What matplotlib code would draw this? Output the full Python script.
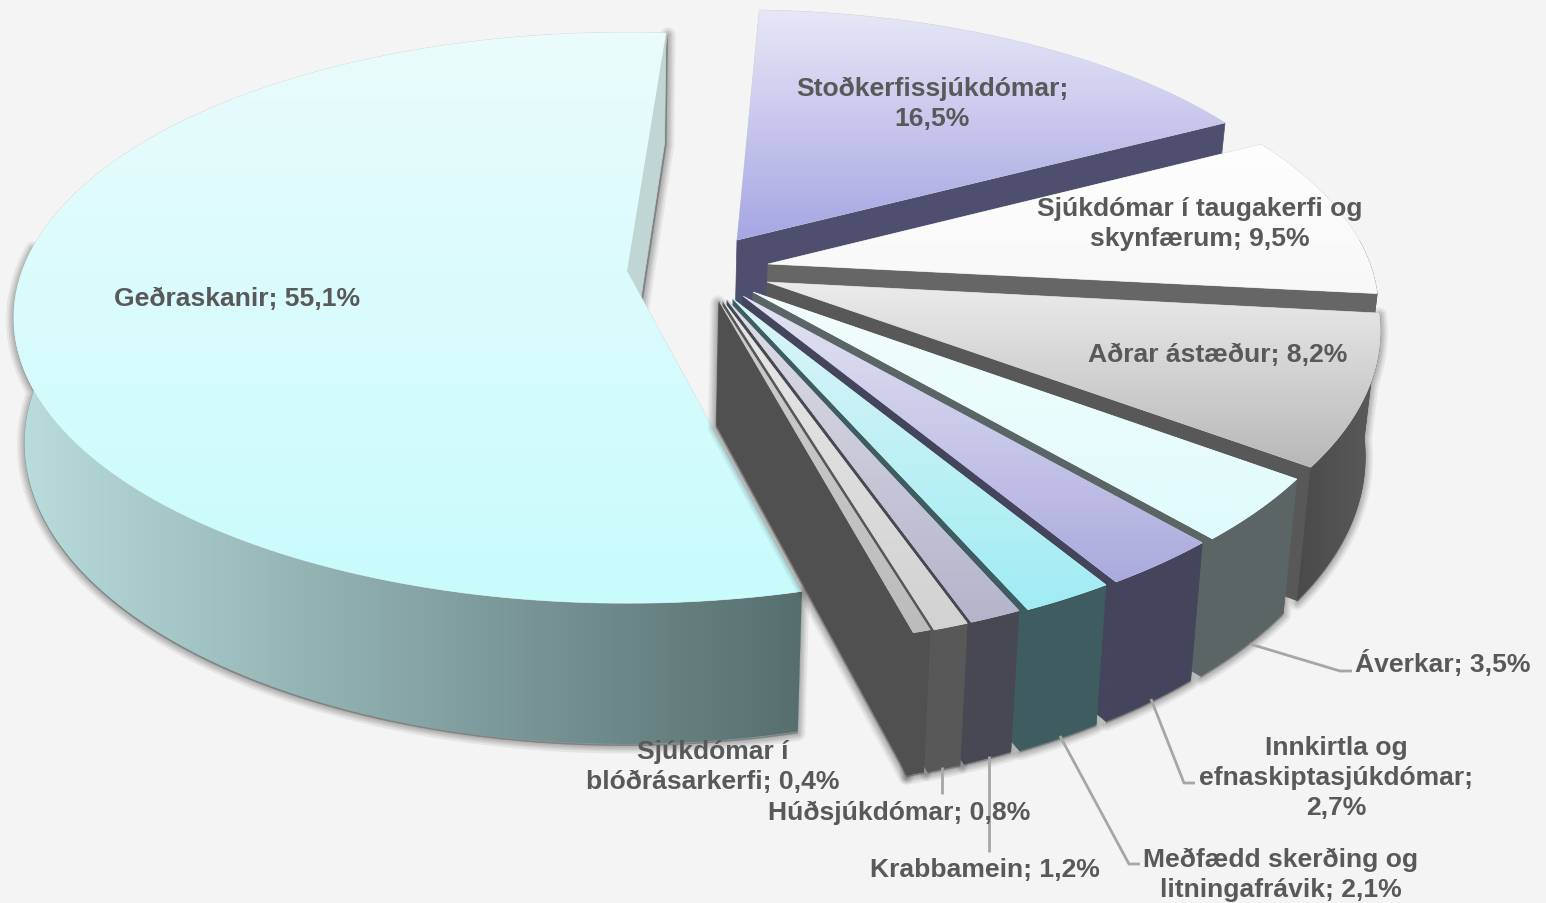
import numpy as np
import matplotlib
matplotlib.use("Agg")
import matplotlib.pyplot as plt
from matplotlib.colors import to_rgb
from matplotlib.patches import Polygon

plt.rcParams['font.family'] = ['Liberation Sans', 'DejaVu Sans']

# gildi, rettsaelis fra "klukkan 12"
slices = ["Stoðkerfissjúkdómar", "Sjúkdómar í taugakerfi og skynfærum", "Aðrar ástæður", "Áverkar",
          "Innkirtla og efnaskiptasjúkdómar", "Meðfædd skerðing og litningafrávik", "Krabbamein",
          "Húðsjúkdómar", "Sjúkdómar í blóðrásarkerfi", "Geðraskanir"]
values = [16.5, 9.5, 8.2, 3.5, 2.7, 2.1, 1.2, 0.8, 0.4, 55.1]
label_text = ["Stoðkerfissjúkdómar;\n{}", "Sjúkdómar í taugakerfi og\nskynfærum; {}", "Aðrar ástæður; {}", "Áverkar; {}",
              "Innkirtla og\nefnaskiptasjúkdómar;\n{}", "Meðfædd skerðing og\nlitningafrávik; {}", "Krabbamein; {}",
              "Húðsjúkdómar; {}", "Sjúkdómar í\nblóðrásarkerfi; {}", "Geðraskanir; {}"]

# utlit: hvar oddur hverrar sneidar lendir (explode), litir, textastadir
start_angle = 2.5
apex = [(737, 241), (768, 265), (767, 283), (753, 293), (743, 297), (733, 300), (727, 301), (723, 302), (719, 302), (627, 272)]
scale_x = [0.985, 0.995, 1, 1, 1, 1, 0.99, 0.99, 0.99, 1]
scale_y = [0.95, 0.97, 1.02, 1.03, 1.03, 1.03, 1.03, 1.03, 1.03, 0.985]
angle_shift = [0, 0, 0, 0, 0, 0, 0, 0, 0, 1.8]
top_colors = [("#e7e7f7", "#a6a6e4"), ("#fefefe", "#f8f8f8"), ("#ececec", "#b8b8b8"), ("#f2fdfc", "#e0fbfc"),
              ("#e4e4f3", "#aaaade"), ("#dcf5f7", "#a0ecf4"), ("#dedee6", "#b4b4cc"), ("#e8e8e8", "#d2d2d2"),
              ("#cecece", "#bcbcbc"), ("#eafcfb", "#c8fbfd")]
wall_colors = ["#4e4e6e", "#666666", "#585858", "#5c6566", "#44445c", "#3f5d60", "#484852", "#585858", "#505050", "#bfd6d5"]
label_pos = [(932, 104), (1200, 224), (1218, 355), (1443, 664), (1336, 778), (1281, 875), (985, 870), (899, 813), (713, 767), (237, 299)]
leaders = [[(1250, 645), (1340, 672), (1352, 672)], [(1151, 700), (1184, 784), (1195, 784)],
           [(1060, 737), (1129, 865), (1140, 865)], [(989, 757), (989, 853)], [(942, 768), (942, 795)]]

# sjonarhorn
rx, ry, persp = 605.0, 282.0, 0.164
vanish_x, shrink = 590.0, 0.981


def rim(i, deg):
    t = np.radians(deg)
    w = 1 + persp * np.cos(t)
    ax0, ay0 = apex[i]
    return np.column_stack([ax0 + scale_x[i] * rx * np.sin(t) / w, ay0 - scale_y[i] * ry * np.cos(t) / w])


def drop(pts):
    # nedri brun sneidar
    pts = np.atleast_2d(pts)
    depth = 110 + (pts[:, 1] - 33) * 0.0537
    return np.column_stack([vanish_x + (pts[:, 0] - vanish_x) * shrink, pts[:, 1] + depth])


def grad_fill(ax, verts, c0, c1, z, horizontal=False, edge=None):
    x0, y0 = verts.min(axis=0)
    x1, y1 = verts.max(axis=0)
    mid = tuple((np.array(to_rgb(c0)) + np.array(to_rgb(c1))) / 2)
    patch = Polygon(verts, closed=True, fc=mid, ec=edge if edge else mid, lw=0.5, zorder=z)
    ax.add_patch(patch)
    f = np.linspace(0, 1, 256)[:, None]
    img = (1 - f) * np.array(to_rgb(c0)) + f * np.array(to_rgb(c1))
    img = img[None, :, :] if horizontal else img[:, None, :]
    im = ax.imshow(img, extent=(x0, x1, y1, y0), aspect='auto', zorder=z + 0.1, interpolation='bilinear')
    im.set_clip_path(patch)


def soft_shadow(ax, verts, z, off=(0, 2)):
    for w in [11, 8, 6, 4, 2]:
        ax.add_patch(Polygon(verts + np.array(off), closed=True, fc='k', ec='k', lw=w, alpha=0.06,
                             joinstyle='round', zorder=z))


fig = plt.figure(figsize=(15.46, 9.04), dpi=100, facecolor="#f4f4f4")
ax = fig.add_axes([0, 0, 1, 1])
ax.set_facecolor("#f4f4f4")

edges = start_angle + np.cumsum([0] + values) * 3.6
n = len(values)

for i in [n - 1] + list(range(n - 1)):
    a1, a2 = edges[i] + angle_shift[i], edges[i + 1] + angle_shift[i]
    big = i == n - 1
    z = 10 if big else 30 + i * 2
    a = np.array(apex[i], dtype=float)
    arc = rim(i, np.linspace(a1, a2, 160))
    end = arc[-1]
    face = np.vstack([a, end, drop(end), drop(a)])

    # ytri veggur, bara sa hluti sem snyr fram
    lo, hi = max(a1, 85), min(a2, 275)
    outer = None
    if hi > lo:
        front = rim(i, np.linspace(lo, hi, 120))
        outer = np.vstack([front, drop(front)[::-1]])

    if big:
        soft_shadow(ax, face, 5, off=(2, 2))
        soft_shadow(ax, outer, 5)
        grad_fill(ax, outer, "#b9dedd", "#566e6e", z, horizontal=True)
        ax.add_patch(Polygon(face, closed=True, fc=wall_colors[i], ec=wall_colors[i], lw=0.5, zorder=z + 0.5))
    else:
        if i >= 2 and outer is not None:
            soft_shadow(ax, outer, 20)
        if i == n - 2:
            soft_shadow(ax, face, 20, off=(-1, 2))
        wc = np.array(to_rgb(wall_colors[i]))
        ax.add_patch(Polygon(face, closed=True, fc=wc, ec=wc, lw=0.5, zorder=z))
        if outer is not None:
            if i == 2:
                grad_fill(ax, outer, tuple(wc * 0.84), tuple(wc * 1.04), z + 0.3, horizontal=True)
            else:
                ax.add_patch(Polygon(outer, closed=True, fc=wc, ec=wc, lw=0.5, zorder=z + 0.3))

    top = np.vstack([a, arc])
    grad_fill(ax, top, top_colors[i][0], top_colors[i][1], z + 1, edge="#d0d0d0" if i in (0, 1, 2, 9) else None)

for pts in leaders:
    pts = np.array(pts)
    ax.plot(pts[:, 0], pts[:, 1], color="#a6a6a6", lw=2.0, zorder=60, solid_capstyle='butt')

for i in range(n):
    val = f"{values[i]:.1f}%".replace(".", ",")
    ax.text(label_pos[i][0], label_pos[i][1], label_text[i].format(val), ha='center', va='center', ma='center',
            fontsize=19.05, fontweight='bold', color="#595959", linespacing=1.32, zorder=70)

ax.set_xlim(0, 1546)
ax.set_ylim(904, 0)
ax.axis("off")
fig.savefig("out.png", dpi=100, facecolor=fig.get_facecolor())
